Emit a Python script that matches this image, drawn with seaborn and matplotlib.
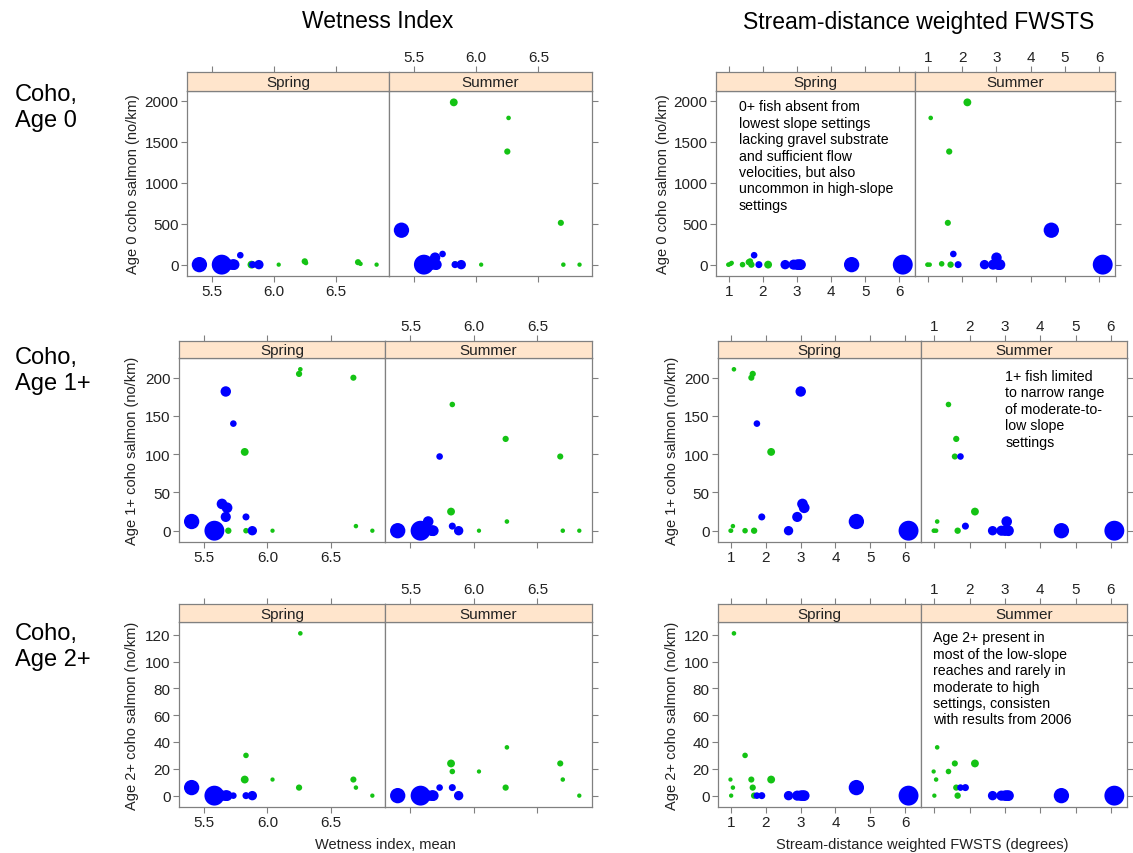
import numpy as np
import pandas as pd
import matplotlib
matplotlib.use("Agg")
import matplotlib.pyplot as plt
import seaborn as sns

# ---- reach attributes (one entry per sampled reach) ----
wetness = [5.40, 5.58, 5.64, 5.67, 5.68, 5.67, 5.73, 5.83, 5.88,
           6.26, 6.25, 6.68, 6.70, 6.83, 6.04, 5.69, 5.82, 5.83]
fwsts = [4.60, 6.10, 3.05, 3.00, 3.10, 2.90, 1.74, 1.88, 2.65,
         1.08, 1.62, 1.58, 1.05, 1.00, 0.98, 1.66, 2.15, 1.40]
group = ["blue"] * 9 + ["green"] * 9

# ---- coho densities (no/km) by age class and season ----
age0_spring = [0, 0, 0, 0, 0, 0, 115, 0, 0, 20, 40, 30, 10, 0, 0, 0, 0, 0]
age0_summer = [420, 0, 0, 85, 0, 0, 130, 0, 0, 1790, 1380, 510, 0, 0, 0, 0, 1980, 10]
age1_spring = [12, 0, 35, 182, 30, 18, 140, 18, 0, 211, 205, 200, 6, 0, 0, 0, 103, 0]
age1_summer = [0, 0, 12, 0, 0, 0, 97, 6, 0, 12, 120, 97, 0, 0, 0, 0, 25, 165]
age2_spring = [6, 0, 0, 0, 0, 0, 0, 0, 0, 121, 6, 12, 6, 0, 12, 0, 12, 30]
age2_summer = [0, 0, 0, 0, 0, 0, 6, 6, 0, 36, 6, 24, 12, 0, 18, 0, 24, 18]

seasons = ["Spring", "Summer"]
age_rows = ["Age 0", "Age 1+", "Age 2+"]
row_labels = ["Coho,\nAge 0", "Coho,\nAge 1+", "Coho,\nAge 2+"]
y_labels = ["Age 0 coho salmon (no/km)", "Age 1+ coho salmon (no/km)",
            "Age 2+ coho salmon (no/km)"]
y_ticks = [[0, 500, 1000, 1500, 2000], [0, 50, 100, 150, 200],
           [0, 20, 40, 60, 80, 100, 120]]
col_titles = ["Wetness Index", "Stream-distance weighted FWSTS"]
x_labels = ["Wetness index, mean", "Stream-distance weighted FWSTS (degrees)"]
x_vars = ["wetness", "fwsts"]
x_ticks = [[5.5, 6.0, 6.5], [1, 2, 3, 4, 5, 6]]
x_ticklabels = [["5.5", "6.0", "6.5"], ["1", "2", "3", "4", "5", "6"]]

notes = {
    (0, 1, "Spring"): "0+ fish absent from\nlowest slope settings\nlacking gravel substrate\n"
                      "and sufficient flow\nvelocities, but also\nuncommon in high-slope\nsettings",
    (1, 1, "Summer"): "1+ fish limited\nto narrow range\nof moderate-to-\nlow slope\nsettings",
    (2, 1, "Summer"): "Age 2+ present in\nmost of the low-slope\nreaches and rarely in\n"
                      "moderate to high\nsettings, consisten\nwith results from 2006",
}

# ---- long table ----
sites = pd.DataFrame({"wetness": wetness, "fwsts": fwsts, "group": group})
# marker area (pt^2): diameter grows linearly with FWSTS
sites["area"] = (0.72 * (1.3 + 3.05 * sites["fwsts"])) ** 2
frames = []
for age, (sp, su) in zip(age_rows, [(age0_spring, age0_summer),
                                     (age1_spring, age1_summer),
                                     (age2_spring, age2_summer)]):
    for season, vals in zip(seasons, (sp, su)):
        d = sites.copy()
        d["age"] = age
        d["season"] = season
        d["density"] = vals
        frames.append(d)
df = pd.concat(frames, ignore_index=True)
# green reaches are drawn first, blue reaches on top
df = df.sort_values("group", ascending=False, kind="stable")

# ---- styling ----
sns.set_style("white")
plt.rcParams["font.family"] = ["Liberation Sans", "DejaVu Sans"]
palette = {"blue": "#0000FF", "green": "#14C314"}
edge = "#808080"
tick_col = "#222222"
strip_bg = "#FFE5CC"
amin, amax = sites["area"].min(), sites["area"].max()

W, H = 1133, 854
fig = plt.figure(figsize=(W / 100, H / 100), dpi=100)


def rect(x0, y0, x1, y1):
    return [x0 / W, 1 - y1 / H, (x1 - x0) / W, (y1 - y0) / H]


def padded(vals, pad=0.07):
    lo, hi = min(vals), max(vals)
    r = hi - lo
    return lo - pad * r, hi + pad * r


# row geometry: strip top, plot top, plot bottom (pixels)
row_y = [(73, 92, 277), (342, 359, 543), (605, 623, 808)]
# column geometry per row: left, divider, right (pixels)
col_x = {
    0: [(187, 389, 592), (716, 915, 1115)],
    1: [(179, 385, 592), (718, 921, 1127)],
    2: [(179, 385, 592), (718, 921, 1127)],
}
ylab_x = [[133, 663], [132, 672], [132, 672]]
row_label_y = [108, 371, 647]

for r, age in enumerate(age_rows):
    ys, yt, yb = row_y[r]
    sub_age = df[df["age"] == age]
    ylim = padded(sub_age["density"].tolist())
    for c, xvar in enumerate(x_vars):
        xl, xm, xr = col_x[r][c]
        xlim = padded(sites[xvar].tolist())
        for k, season in enumerate(seasons):
            x0, x1 = (xl, xm) if k == 0 else (xm, xr)
            ax = fig.add_axes(rect(x0, yt, x1, yb))
            sub = sub_age[sub_age["season"] == season]
            sns.scatterplot(data=sub, x=xvar, y="density", hue="group",
                            palette=palette, size="area",
                            sizes=(amin, amax), size_norm=(amin, amax),
                            linewidth=0, alpha=1, legend=False, ax=ax)
            ax.set_xlim(*xlim)
            ax.set_ylim(*ylim)
            ax.set_xlabel("")
            ax.set_ylabel("")
            ax.set_xticks(x_ticks[c])
            ax.set_xticklabels(x_ticklabels[c])
            ax.set_yticks(y_ticks[r])
            for s in ax.spines.values():
                s.set_color(edge)
                s.set_linewidth(0.9)
            ax.tick_params(axis="both", direction="out", length=4, width=0.8,
                           color=edge, labelcolor=tick_col, labelsize=11, pad=2)
            if k == 0:
                ax.tick_params(left=True, labelleft=True, right=False,
                               bottom=True, labelbottom=True, top=False)
            else:
                ax.tick_params(left=False, labelleft=False, right=True,
                               labelright=False, bottom=True,
                               labelbottom=False, top=False)
            note = notes.get((r, c, season))
            if note:
                if (r, c) == (0, 1):
                    tx, ty = 0.115, 0.955
                elif (r, c) == (1, 1):
                    tx, ty = 0.41, 0.94
                else:
                    tx, ty = 0.058, 0.955
                ax.text(tx, ty, note, transform=ax.transAxes, ha="left",
                        va="top", fontsize=10.2, linespacing=1.22,
                        color="black")

            # strip with the season name and the top axis
            st = fig.add_axes(rect(x0, ys, x1, yt))
            st.set_facecolor(strip_bg)
            st.set_xlim(*xlim)
            st.set_ylim(0, 1)
            st.set_yticks([])
            st.set_xticks(x_ticks[c])
            st.set_xticklabels(x_ticklabels[c])
            for s in st.spines.values():
                s.set_color(edge)
                s.set_linewidth(0.9)
            st.tick_params(axis="x", direction="out", length=4, width=0.8,
                           color=edge, labelcolor=tick_col, labelsize=11,
                           pad=2, top=True, bottom=False, labelbottom=False,
                           labeltop=(k == 1))
            st.text(0.5, 0.45, season, transform=st.transAxes, ha="center",
                    va="center", fontsize=11, color="#222222")

        # y axis title for the panel pair
        fig.text(ylab_x[r][c] / W, 1 - (yt + yb) / 2 / H, y_labels[r],
                 rotation=90, ha="center", va="center", fontsize=10.5,
                 color=tick_col)

    fig.text(15 / W, 1 - row_label_y[r] / H, row_labels[r], ha="left",
             va="center", fontsize=17, linespacing=1.2, color="black")

# column titles and bottom axis titles
fig.text(378 / W, 1 - 21 / H, col_titles[0], ha="center", va="center",
         fontsize=16.5, color="black")
fig.text(919 / W, 1 - 22 / H, col_titles[1], ha="center", va="center",
         fontsize=16.5, color="black")
fig.text(385 / W, 1 - 845 / H, x_labels[0], ha="center", va="center",
         fontsize=10.5, color=tick_col)
fig.text(922 / W, 1 - 845 / H, x_labels[1], ha="center", va="center",
         fontsize=10.5, color=tick_col)

fig.savefig("out.png", dpi=100, facecolor="white")
